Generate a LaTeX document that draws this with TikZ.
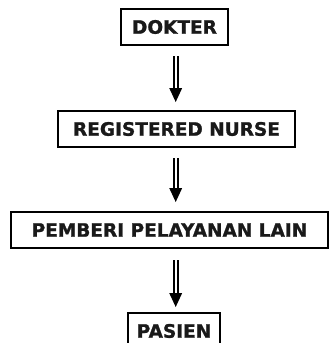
\documentclass[tikz,border=0pt]{standalone}
\usepackage{fontspec}
\setmainfont{DejaVu Sans}[BoldFeatures={FakeBold=1.2}]
\begin{document}
\begin{tikzpicture}[x=1bp,y=-1bp,
  box/.style={draw=black, line width=2bp, fill=white, inner sep=0pt,
    font=\bfseries\fontsize{18.5bp}{20bp}\selectfont, text=black!90},
  shaft/.style={draw=black, line width=1.8bp, double=white, double distance=2bp},
  head/.style={fill=black}]
\useasboundingbox (0,0) rectangle (332,343);

% boxes of the chain
\node[box, minimum width=107bp, minimum height=36bp] (dokter) at (174.5,27) {DOKTER};
\node[box, minimum width=237bp, minimum height=36bp] (rn) at (176.5,129) {REGISTERED NURSE};
\node[box, minimum width=317bp, minimum height=36bp] (ppl) at (169.5,230) {PEMBERI PELAYANAN LAIN};
\node[box, minimum width=92bp, minimum height=36bp] (pasien) at (174,331) {PASIEN};

% double-shafted arrows with solid triangular heads
\foreach \a/\b/\gs/\ge in {dokter/rn/10/8, rn/ppl/10/9, ppl/pasien/11/5}{
  \coordinate (s) at ([yshift=-\gs bp]\a.south);
  \coordinate (t) at ([yshift=\ge bp]\b.north);
  \coordinate (hb) at ([yshift=14bp]t);
  \draw[shaft] (s -| 175.7,0) -- ([yshift=-1bp]hb -| 175.7,0);
  \fill[head] (t -| 175.7,0) -- ([xshift=-6.5bp]hb -| 175.7,0) -- ([xshift=6.5bp]hb -| 175.7,0) -- cycle;
}
\end{tikzpicture}
\end{document}
